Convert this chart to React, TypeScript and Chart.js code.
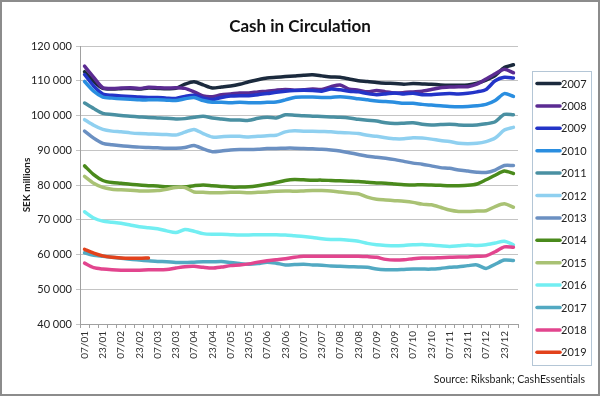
import { useEffect, useRef } from "react";
import { Chart, registerables } from "chart.js";

Chart.register(...registerables);

const categories = [
  "07/01","15/01","23/01","31/01","07/02","15/02","23/02","28/02",
  "07/03","15/03","23/03","31/03","07/04","15/04","23/04","30/04",
  "07/05","15/05","23/05","31/05","07/06","15/06","23/06","30/06",
  "07/07","15/07","23/07","31/07","07/08","15/08","23/08","31/08",
  "07/09","15/09","23/09","30/09","07/10","15/10","23/10","31/10",
  "07/11","15/11","23/11","30/11","07/12","15/12","23/12","31/12",
];

const yTickValues = [40000, 50000, 60000, 70000, 80000, 90000, 100000, 110000, 120000];

const years = ["2007","2008","2009","2010","2011","2012","2013","2014","2015","2016","2017","2018","2019"];

const colors = [
  "#1b2a3d","#5b2b92","#2334c8","#2a8ee0","#4a90a2","#8fd0f0","#6b90c2",
  "#4a8a1c","#a9c274","#72eef2","#52a9c2","#e2458e","#e2421c",
];

const s2007 = [112600,109800,107800,107600,107700,107800,107600,107900,107800,107700,107800,109000,109700,108800,107900,108200,108500,109000,109700,110300,110800,111000,111200,111400,111600,111700,111400,111100,111000,110500,110000,109800,109500,109300,109200,109000,109200,109100,109000,108800,108700,108700,108800,109300,110200,111500,113800,114600];
const s2008 = [114200,111000,108000,107800,107900,108000,107800,108100,108000,107900,108000,107800,106800,105600,105400,106000,106200,106500,106500,106800,107000,107300,107500,107300,107400,107600,107500,108300,108800,107600,107300,106800,107200,106800,106500,106600,106800,107000,107500,108000,108200,108300,108300,109000,110500,112000,113300,112300];
const s2009 = [111800,108500,106200,105800,105600,105500,105300,105200,105200,105000,104900,105500,105800,105000,104600,105200,105600,105700,105700,106000,106300,106700,107000,107200,107300,107200,107000,107600,107400,107000,106800,106300,106000,106200,106500,106200,106400,106000,106000,106200,106300,106200,106400,106800,107500,110000,111000,110800];
const s2010 = [109800,107000,105300,105000,104800,104700,104500,104500,104500,104400,104300,104800,105200,104300,103800,103800,103700,103800,103700,103700,103800,103900,104500,105200,105300,105300,105200,105200,105400,105200,104800,104500,104200,104000,103800,103500,103500,103200,103000,102800,102600,102500,102600,102800,103200,104300,106300,105500];
const s2011 = [103600,102000,100600,100300,100000,99800,99600,99400,99300,99200,99000,99100,99500,99800,99300,99000,98700,98700,98600,99200,99500,99300,100200,100100,99900,99800,99700,99600,99500,99300,98900,98600,98400,97900,97700,97800,97900,97500,97300,97400,97500,97300,97200,97300,97600,98200,100300,100200];
const s2012 = [98800,97200,96000,95500,95300,95000,94800,94700,94600,94500,94400,95200,96000,94800,93800,93900,94000,94000,93800,94000,94200,94300,95300,95600,95500,95500,95400,95300,95100,95000,94800,94300,94000,93600,93300,93300,93600,93500,93200,92800,92500,92000,91900,92000,92500,93500,95800,96600];
const s2013 = [95500,93500,92000,91600,91300,91100,90900,90800,90700,90600,90600,90800,91400,90400,89600,89800,90100,90200,90200,90300,90500,90500,90600,90600,90500,90400,90300,90100,89800,89300,88800,88300,88000,87700,87300,86800,86300,86000,85500,85000,84800,84300,84000,83700,83600,84300,85600,85600];
const s2014 = [85500,83000,81300,80700,80500,80200,80000,79800,79700,79500,79400,79500,79800,80000,79800,79600,79400,79400,79500,79800,80200,80700,81300,81600,81500,81400,81400,81300,81200,81100,81000,80800,80600,80500,80300,80100,80000,80100,80000,79900,79800,79800,79900,80300,81500,82800,84000,83300];
const s2015 = [82500,80500,79300,78800,78600,78500,78300,78300,78400,78800,79300,79300,78000,77900,77800,77800,77900,77900,77800,77900,78000,78200,78300,78200,78300,78400,78400,78300,78000,77700,77500,76500,75900,75700,75500,75300,75000,74500,74300,73600,72800,72400,72400,72500,72600,73800,74600,73600];
const s2016 = [72300,70500,69600,69300,69000,68500,68000,67700,67400,66800,66300,67200,66700,66000,65800,65800,65700,65600,65600,65700,65700,65700,65600,65400,65200,64900,64500,64300,64300,64100,63800,63200,62800,62600,62500,62600,62800,62900,62700,62500,62300,62500,62700,62600,62800,63300,63800,62800];
const s2017 = [60500,59800,59500,59200,58900,58600,58400,58200,58000,57900,57700,57700,57800,57900,57900,58000,57700,57400,57200,57400,57800,57500,57000,57100,57200,57000,56900,56700,56600,56500,56400,56300,55800,55600,55600,55700,55800,55800,55800,56000,56300,56500,56800,57000,56000,57200,58400,58300];
const s2018 = [57500,56200,55800,55600,55500,55500,55500,55600,55600,55700,56100,56500,56600,56300,56100,56400,56800,57000,57300,57800,58200,58500,58800,59200,59500,59500,59500,59500,59500,59500,59500,59400,59200,58600,58400,58500,58800,59000,59000,59100,59200,59300,59300,59500,59600,60800,62200,62100];
const s2019 = [61500,60400,59600,59200,59000,58900,58900,59000];

const seriesValues = [s2007,s2008,s2009,s2010,s2011,s2012,s2013,s2014,s2015,s2016,s2017,s2018,s2019];

const FONT = "Lato, 'Open Sans', sans-serif";

function formatThousands(v: number): string {
  const s = String(Math.round(v));
  return s.replace(/\B(?=(\d{3})+(?!\d))/g, " ");
}

const decorPlugin = {
  id: "decor",
  beforeDraw(chart: any) {
    const ctx = chart.ctx;
    ctx.save();
    ctx.fillStyle = "#ffffff";
    ctx.fillRect(0, 0, chart.width, chart.height);
    ctx.restore();
  },
  afterDraw(chart: any) {
    const ctx = chart.ctx;
    const area = chart.chartArea;
    ctx.save();
    ctx.strokeStyle = "#8c8c8c";
    ctx.lineWidth = 2;
    ctx.strokeRect(1, 1, chart.width - 2, chart.height - 2);

    ctx.fillStyle = "#111111";
    ctx.font = `bold 17px ${FONT}`;
    ctx.textAlign = "center";
    ctx.textBaseline = "middle";
    ctx.fillText("Cash in Circulation", 300, 27);

    ctx.save();
    ctx.translate(27, (area.top + area.bottom) / 2);
    ctx.rotate(-Math.PI / 2);
    ctx.font = `bold 10px ${FONT}`;
    ctx.fillStyle = "#222222";
    ctx.textAlign = "center";
    ctx.textBaseline = "middle";
    ctx.fillText("SEK millions", 0, 0);
    ctx.restore();

    ctx.font = `10.5px ${FONT}`;
    ctx.fillStyle = "#222222";
    ctx.textAlign = "right";
    ctx.textBaseline = "middle";
    ctx.fillText("Source: Riksbank; CashEssentials", 585, 380);

    const lx = 532, ly = 71, lw = 59, lh = 294;
    ctx.strokeStyle = "#b4c6d6";
    ctx.lineWidth = 1;
    ctx.strokeRect(lx + 0.5, ly + 0.5, lw, lh);
    ctx.font = `11px ${FONT}`;
    ctx.textAlign = "left";
    ctx.textBaseline = "middle";
    chart.data.datasets.forEach((ds: any, i: number) => {
      const y = 83.5 + i * 22.4;
      ctx.strokeStyle = ds.borderColor;
      ctx.lineWidth = 3.5;
      ctx.lineCap = "round";
      ctx.beginPath();
      ctx.moveTo(537, y);
      ctx.lineTo(560, y);
      ctx.stroke();
      ctx.fillStyle = "#222222";
      ctx.fillText(ds.label, 561, y + 0.5);
    });
    ctx.restore();
  },
};

export default function App() {
  const canvasRef = useRef<HTMLCanvasElement | null>(null);

  useEffect(() => {
    const canvas = canvasRef.current;
    if (!canvas) return;
    const datasets = years.map((y, i) => ({
      label: y,
      data: seriesValues[i],
      borderColor: colors[i],
      backgroundColor: colors[i],
      borderWidth: 3.5,
      pointRadius: 0,
      pointHoverRadius: 0,
      tension: 0.25,
      borderCapStyle: "round" as const,
      borderJoinStyle: "round" as const,
      fill: false,
      order: years.length - 1 - i,
    }));

    const chart = new Chart(canvas, {
      type: "line",
      data: { labels: categories, datasets },
      plugins: [decorPlugin],
      options: {
        responsive: false,
        devicePixelRatio: 1,
        animation: false,
        layout: { padding: { top: 46, left: 0, right: 82, bottom: 0 } },
        plugins: {
          legend: { display: false },
          title: { display: false },
          tooltip: { enabled: false },
        },
        scales: {
          x: {
            type: "category",
            offset: true,
            grid: {
              offset: true,
              drawOnChartArea: false,
              drawTicks: true,
              tickLength: 4,
              color: "#a0a0a0",
            },
            border: { display: true, color: "#a0a0a0", width: 1 },
            ticks: {
              autoSkip: false,
              maxRotation: 90,
              minRotation: 90,
              padding: 3,
              color: "#333333",
              font: { family: FONT, size: 10 },
              callback: (_v: any, index: number) => (index % 2 === 0 ? categories[index] : ""),
            },
            afterFit: (scale: any) => {
              scale.height = 72;
            },
          },
          y: {
            min: 40000,
            max: 120000,
            grid: {
              color: "#c4c4c4",
              lineWidth: 1,
              drawTicks: true,
              tickLength: 4,
            },
            border: { display: true, color: "#a0a0a0", width: 1 },
            afterBuildTicks: (scale: any) => {
              scale.ticks = yTickValues.map((v) => ({ value: v }));
            },
            ticks: {
              padding: 4,
              color: "#222222",
              font: { family: FONT, size: 11 },
              callback: (v: any) => formatThousands(Number(v)),
            },
            afterFit: (scale: any) => {
              scale.width = 80;
            },
          },
        },
      },
    });
    return () => chart.destroy();
  }, []);

  return (
    <div style={{ position: "absolute", left: 0, top: 0, width: 600, height: 396 }}>
      <canvas ref={canvasRef} width={600} height={396} style={{ display: "block" }} />
    </div>
  );
}
